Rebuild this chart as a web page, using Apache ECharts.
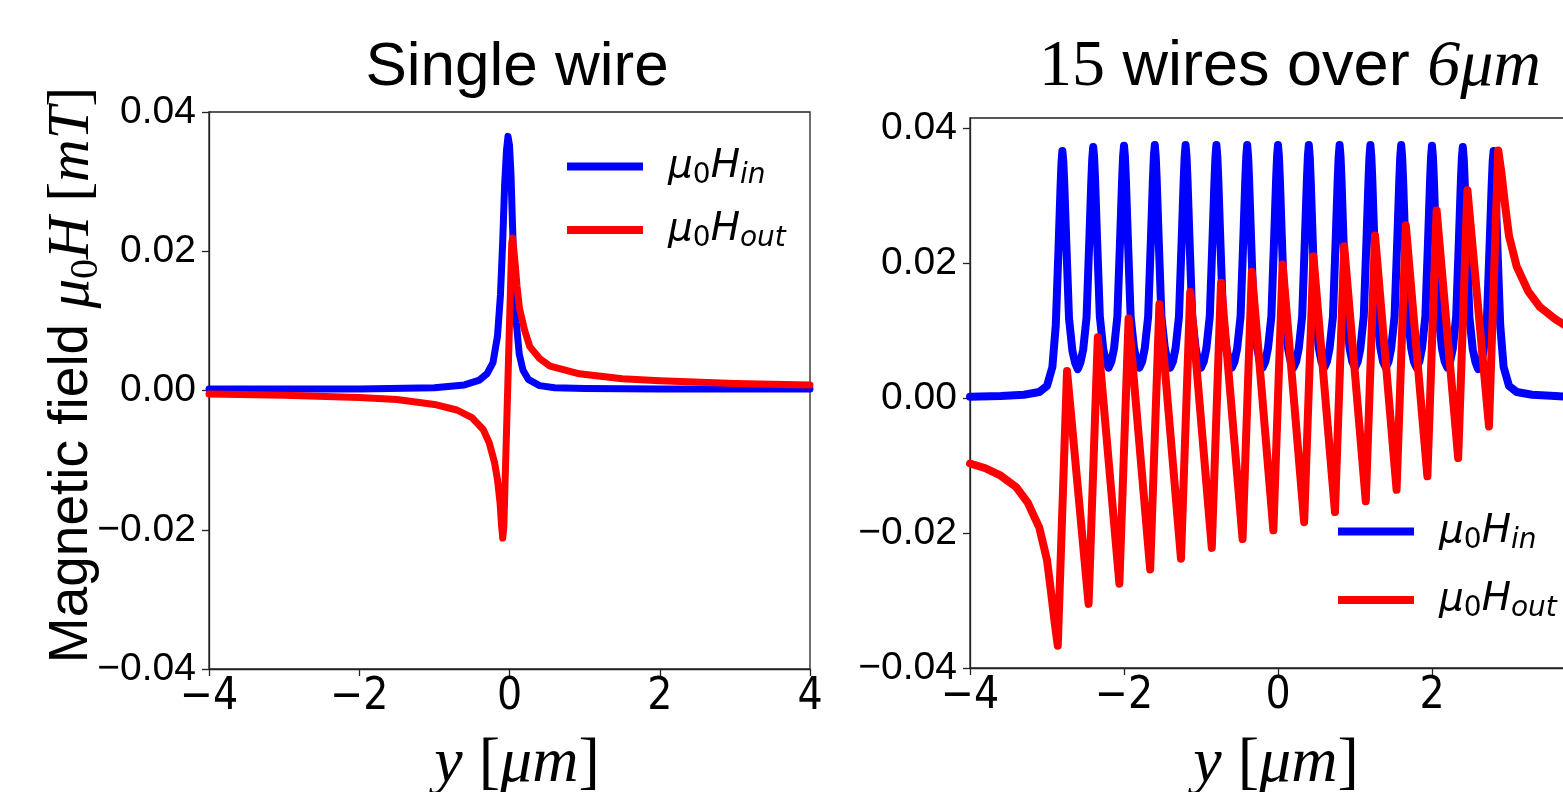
<!DOCTYPE html>
<html><head><meta charset="utf-8">
<script src="https://cdn.jsdelivr.net/npm/echarts@6/dist/echarts.min.js"></script>
<style>html,body{margin:0;padding:0;background:#fff}#c{width:1563px;height:792px}</style>
</head><body><div id="c"></div>
<script>
// ---- data (x in µm, field in mT) ----
const xTicks = [-4, -2, 0, 2, 4];
const yTicks = [-0.04, -0.02, 0, 0.02, 0.04];
const titles = ['Single wire', '15 wires over 6μm'];
const seriesNames = ['in', 'out'];

const singleIn = [[-4,0.0002],[-3,0.0002],[-2,0.0002],[-1,0.0004],[-0.6,0.0008],[-0.4,0.0015],[-0.3,0.0024],[-0.22,0.004],[-0.16,0.0078],[-0.12,0.0138],[-0.09,0.0215],[-0.065,0.0295],[-0.04,0.0345],[-0.02,0.0365],[0.0,0.0352],[0.02,0.031],[0.04,0.0238],[0.065,0.0155],[0.09,0.0098],[0.13,0.0052],[0.18,0.0029],[0.25,0.0016],[0.4,0.0007],[0.6,0.0004],[1,0.0003],[2,0.0002],[4,0.0002]];

const singleOut = [[-4,-0.0005],[-3,-0.0007],[-2,-0.001],[-1.5,-0.0013],[-1,-0.002],[-0.7,-0.0028],[-0.5,-0.0039],[-0.35,-0.0056],[-0.27,-0.0075],[-0.2,-0.0103],[-0.16,-0.0128],[-0.125,-0.0162],[-0.105,-0.0195],[-0.09,-0.0212],[-0.075,-0.0195],[0.03,0.0212],[0.042,0.0219],[0.055,0.0205],[0.075,0.0182],[0.1,0.015],[0.133,0.0118],[0.2,0.0087],[0.27,0.0063],[0.4,0.0046],[0.54,0.0035],[0.93,0.0024],[1.5,0.0017],[2,0.0014],[3,0.001],[4,0.0008]];

const multiIn = [[-4,0.0002],[-3.6,0.0003],[-3.3,0.0005],[-3.1,0.0009],[-3.0,0.0018],
[-2.93,0.0046],[-2.886,0.0108],[-2.85,0.0222],[-2.825,0.031],[-2.812,0.0348],[-2.8,0.0366],[-2.788,0.035],[-2.775,0.0315],[-2.75,0.0232],[-2.714,0.0118],[-2.67,0.007],[-2.635,0.0052],[-2.6,0.0043],[-2.565,0.0053],
[-2.53,0.0072],[-2.486,0.012],[-2.45,0.0235],[-2.425,0.032],[-2.412,0.0355],[-2.4,0.0372],[-2.388,0.0356],[-2.375,0.0321],[-2.35,0.0236],[-2.314,0.0121],[-2.27,0.0073],[-2.235,0.0054],[-2.2,0.0045],[-2.165,0.0054],
[-2.13,0.0073],[-2.086,0.0121],[-2.05,0.0237],[-2.025,0.0322],[-2.012,0.0358],[-2.0,0.0374],[-1.988,0.0358],[-1.975,0.0322],[-1.95,0.0237],[-1.914,0.0121],[-1.87,0.0074],[-1.835,0.0054],[-1.8,0.0045],[-1.765,0.0054],
[-1.73,0.0074],[-1.686,0.0121],[-1.65,0.0237],[-1.625,0.0322],[-1.612,0.0358],[-1.6,0.0375],[-1.588,0.0358],[-1.575,0.0322],[-1.55,0.0237],[-1.514,0.0121],[-1.47,0.0074],[-1.435,0.0054],[-1.4,0.0045],[-1.365,0.0054],
[-1.33,0.0074],[-1.286,0.0121],[-1.25,0.0237],[-1.225,0.0322],[-1.212,0.0358],[-1.2,0.0375],[-1.188,0.0358],[-1.175,0.0322],[-1.15,0.0237],[-1.114,0.0121],[-1.07,0.0074],[-1.035,0.0054],[-1.0,0.0045],[-0.965,0.0054],
[-0.93,0.0074],[-0.886,0.0121],[-0.85,0.0237],[-0.825,0.0322],[-0.812,0.0358],[-0.8,0.0375],[-0.788,0.0358],[-0.775,0.0322],[-0.75,0.0237],[-0.714,0.0121],[-0.67,0.0074],[-0.635,0.0054],[-0.6,0.0045],[-0.565,0.0054],
[-0.53,0.0074],[-0.486,0.0121],[-0.45,0.0237],[-0.425,0.0322],[-0.412,0.0358],[-0.4,0.0375],[-0.388,0.0358],[-0.375,0.0322],[-0.35,0.0237],[-0.314,0.0121],[-0.27,0.0074],[-0.235,0.0054],[-0.2,0.0045],[-0.165,0.0054],
[-0.13,0.0074],[-0.086,0.0121],[-0.05,0.0237],[-0.025,0.0322],[-0.012,0.0358],[0,0.0375],[0.012,0.0358],[0.025,0.0322],[0.05,0.0237],[0.086,0.0121],[0.13,0.0074],[0.165,0.0054],[0.2,0.0045],[0.235,0.0054],
[0.27,0.0074],[0.314,0.0121],[0.35,0.0237],[0.375,0.0322],[0.388,0.0358],[0.4,0.0375],[0.412,0.0358],[0.425,0.0322],[0.45,0.0237],[0.486,0.0121],[0.53,0.0074],[0.565,0.0054],[0.6,0.0045],[0.635,0.0054],
[0.67,0.0074],[0.714,0.0121],[0.75,0.0237],[0.775,0.0322],[0.788,0.0358],[0.8,0.0375],[0.812,0.0358],[0.825,0.0322],[0.85,0.0237],[0.886,0.0121],[0.93,0.0074],[0.965,0.0054],[1.0,0.0045],[1.035,0.0054],
[1.07,0.0074],[1.114,0.0121],[1.15,0.0237],[1.175,0.0322],[1.188,0.0358],[1.2,0.0375],[1.212,0.0358],[1.225,0.0322],[1.25,0.0237],[1.286,0.0121],[1.33,0.0074],[1.365,0.0054],[1.4,0.0045],[1.435,0.0054],
[1.47,0.0074],[1.514,0.0121],[1.55,0.0237],[1.575,0.0322],[1.588,0.0358],[1.6,0.0375],[1.612,0.0358],[1.625,0.0322],[1.65,0.0237],[1.686,0.0121],[1.73,0.0074],[1.765,0.0054],[1.8,0.0045],[1.835,0.0054],
[1.87,0.0074],[1.914,0.0121],[1.95,0.0237],[1.975,0.0322],[1.988,0.0358],[2.0,0.0374],[2.012,0.0358],[2.025,0.0322],[2.05,0.0237],[2.086,0.0121],[2.13,0.0073],[2.165,0.0054],[2.2,0.0045],[2.235,0.0054],
[2.27,0.0073],[2.314,0.0121],[2.35,0.0236],[2.375,0.0321],[2.388,0.0356],[2.4,0.0372],[2.412,0.0355],[2.425,0.032],[2.45,0.0235],[2.486,0.012],[2.53,0.0072],[2.565,0.0053],[2.6,0.0043],[2.635,0.0052],
[2.67,0.007],[2.714,0.0118],[2.75,0.0232],[2.775,0.0315],[2.788,0.035],[2.8,0.0366],[2.812,0.0348],[2.825,0.031],[2.85,0.0222],[2.886,0.0108],[2.93,0.0046],
[3.0,0.0018],[3.1,0.0009],[3.3,0.0005],[3.6,0.0003],[3.75,0.0002]];

const multiOut = [[-4,-0.0097],[-3.8,-0.0104],[-3.6,-0.0115],[-3.4,-0.0132],[-3.25,-0.0155],[-3.1,-0.0192],[-3.0,-0.024],[-2.95,-0.0285],[-2.9,-0.0333],[-2.86,-0.0367],
[-2.74,0.004],[-2.46,-0.0305],[-2.34,0.009],[-2.06,-0.0275],[-1.94,0.0118],[-1.66,-0.0254],[-1.54,0.0139],[-1.26,-0.0238],[-1.14,0.0157],[-0.86,-0.0222],[-0.74,0.0171],[-0.46,-0.0209],[-0.34,0.0187],[-0.06,-0.0196],[0.06,0.0198],[0.34,-0.0184],[0.46,0.021],[0.74,-0.0169],[0.86,0.0225],[1.14,-0.0153],[1.26,0.0241],[1.54,-0.0136],[1.66,0.0256],[1.94,-0.0116],[2.06,0.0278],[2.34,-0.0089],[2.46,0.0308],[2.74,-0.0042],[2.86,0.0367],
[2.9,0.0335],[2.95,0.0285],[3.0,0.024],[3.1,0.0195],[3.25,0.0158],[3.4,0.0135],[3.6,0.0117],[3.75,0.0106]];

// ---- rendering ----
const SANS = '"Liberation Sans", Arial, sans-serif';
const SERIF = '"Liberation Serif", "DejaVu Serif", serif';
const MATH = '"DejaVu Sans", sans-serif';
const NARROW = '"Liberation Sans Narrow", "DejaVu Sans Condensed", "Liberation Sans", sans-serif';
const minus = s => String(s).replace('-', '\u2212');

const chart = echarts.init(document.getElementById('c'), null, {renderer: 'canvas'});

function xAxisCfg(gi) {
  return {
    type: 'value', gridIndex: gi, min: -4, max: 4, interval: 2,
    axisLine: {show: true, onZero: false, lineStyle: {color: '#222', width: 1.3}},
    axisTick: {show: true, length: 7, lineStyle: {color: '#222', width: 1.3}},
    splitLine: {show: false},
    axisLabel: {margin: 7, color: '#000', fontFamily: NARROW, fontSize: 44,
      formatter: v => minus(v)}
  };
}
function yAxisCfg(gi, max) {
  return {
    type: 'value', gridIndex: gi, min: -0.04, max: max,
    axisLine: {show: true, onZero: false, lineStyle: {color: '#222', width: 1.3}},
    axisTick: {show: true, length: 7, customValues: yTicks, lineStyle: {color: '#222', width: 1.3}},
    splitLine: {show: false},
    axisLabel: {margin: 13, color: '#000', fontFamily: SANS, fontSize: 39, customValues: yTicks,
      formatter: v => minus(Number(v).toFixed(2))}
  };
}
const legendRich = {
  m0: {fontFamily: MATH, fontStyle: 'italic', fontSize: 39, lineHeight: 46, padding: [0, 0, 0, 20], color: '#000'},
  m: {fontFamily: MATH, fontStyle: 'italic', fontSize: 39, lineHeight: 46, color: '#000'},
  n: {fontFamily: MATH, fontSize: 28, lineHeight: 46, verticalAlign: 'bottom', color: '#000'},
  s: {fontFamily: MATH, fontStyle: 'italic', fontSize: 28, lineHeight: 46, verticalAlign: 'bottom', color: '#000'}
};
const legendFmt = name => '{m0|μ}{n|0}{m|H}{s|' + name + '}';
function legendCfg(left, top, gap) {
  return {data: seriesNames, orient: 'vertical', left: left, top: top, padding: 0,
    itemWidth: 76, itemHeight: 8, itemGap: gap, icon: 'rect', selectedMode: false,
    formatter: legendFmt, textStyle: {rich: legendRich}};
}
function lineSeries(name, gi, data, color, w) {
  return {type: 'line', name: name, xAxisIndex: gi, yAxisIndex: gi, data: data,
    showSymbol: false, symbol: 'none', smooth: false, clip: true,
    lineStyle: {color: color, width: w, join: 'round', cap: 'round'},
    itemStyle: {color: color}};
}

const mathRich = {
  a: {fontFamily: SANS, fontSize: 55, color: '#000'},
  m: {fontFamily: SERIF, fontStyle: 'italic', fontSize: 59, color: '#000'},
  u: {fontFamily: SERIF, fontSize: 59, color: '#000'},
  n: {fontFamily: SERIF, fontSize: 40, color: '#000', verticalAlign: 'bottom', lineHeight: 68},
  t: {fontFamily: SANS, fontSize: 63, color: '#000'},
  d: {fontFamily: SERIF, fontSize: 66, color: '#000'},
  e: {fontFamily: SERIF, fontStyle: 'italic', fontSize: 66, color: '#000'},
  xm: {fontFamily: SERIF, fontStyle: 'italic', fontSize: 64, color: '#000'},
  xu: {fontFamily: SERIF, fontSize: 64, color: '#000'}
};

chart.setOption({
  animation: false,
  backgroundColor: '#fff',
  grid: [
    {left: 209, top: 112, width: 601, height: 557, show: true, borderColor: '#222', borderWidth: 1.3, backgroundColor: 'transparent', containLabel: false, outerBoundsMode: 'none'},
    {left: 970, top: 118, width: 616, height: 550, show: true, borderColor: '#222', borderWidth: 1.3, backgroundColor: 'transparent', containLabel: false, outerBoundsMode: 'none'}
  ],
  xAxis: [xAxisCfg(0), xAxisCfg(1)],
  yAxis: [yAxisCfg(0, 0.04), yAxisCfg(1, 0.0415)],
  legend: [legendCfg(567, 147, 21), legendCfg(1338, 512, 26)],
  series: [
    lineSeries('in', 0, singleIn, '#0000ff', 7),
    lineSeries('out', 0, singleOut, '#ff0000', 7),
    lineSeries('in', 1, multiIn, '#0000ff', 8),
    lineSeries('out', 1, multiOut, '#ff0000', 8)
  ],
  graphic: [
    {type: 'text', x: 517, y: 68, style: {text: titles[0], font: '62px ' + SANS, fill: '#000', align: 'center', verticalAlign: 'middle'}},
    {type: 'text', x: 1290, y: 68, style: {text: '{d|15}{t| wires over }{e|6μm}', rich: mathRich, align: 'center', verticalAlign: 'middle'}},
    {type: 'text', x: 72, y: 375, rotation: Math.PI / 2, style: {text: '{a|Magnetic field }{m|μ}{n|0}{m|H}{u| [}{m|mT}{u|]}', rich: mathRich, align: 'center', verticalAlign: 'middle'}},
    {type: 'text', x: 517, y: 764, style: {text: '{xm|y}{xu| [}{xm|μm}{xu|]}', rich: mathRich, align: 'center', verticalAlign: 'middle'}},
    {type: 'text', x: 1276, y: 764, style: {text: '{xm|y}{xu| [}{xm|μm}{xu|]}', rich: mathRich, align: 'center', verticalAlign: 'middle'}}
  ]
});
</script>
</body></html>
